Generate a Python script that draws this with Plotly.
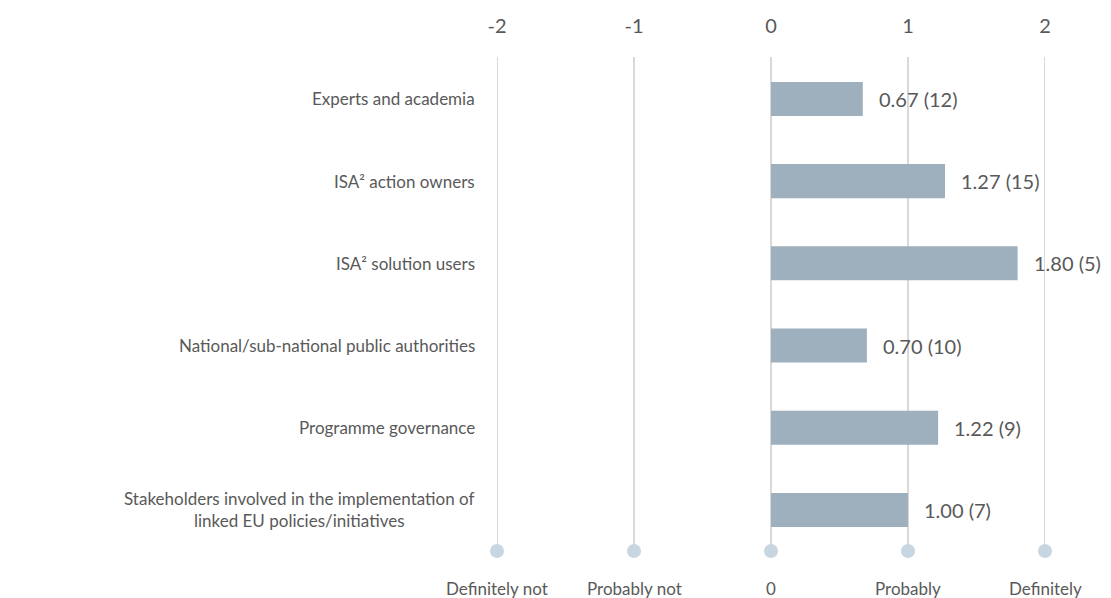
import plotly.graph_objects as go

categories = [
    "Experts and academia",
    "ISA² action owners",
    "ISA² solution users",
    "National/sub-national public authorities",
    "Programme governance",
    "Stakeholders involved in the implementation of<br>linked EU policies/initiatives",
]
scores = [0.67, 1.27, 1.80, 0.70, 1.22, 1.00]
counts = [12, 15, 5, 10, 9, 7]
scale_values = [-2, -1, 0, 1, 2]
scale_ticks = ["-2", "-1", "0", "1", "2"]
scale_labels = ["Definitely not", "Probably not", "0", "Probably", "Definitely"]

FONT = "Lato, 'Open Sans', sans-serif"
TXT = "#595959"
FS = 17
FS_NUM = 20
ypos = list(range(len(categories)))
dot_y = len(categories) - 0.5

fig = go.Figure()
fig.add_trace(go.Bar(
    x=scores, y=ypos, orientation="h", width=0.414,
    marker=dict(color="#9eafbe", line=dict(width=0)),
    hoverinfo="skip",
))
fig.add_trace(go.Scatter(
    x=scale_values, y=[dot_y] * len(scale_values), mode="markers",
    marker=dict(size=14, color="#c8d6e2"), cliponaxis=False, hoverinfo="skip",
))

shapes = [
    dict(type="line", xref="x", yref="paper", x0=v, x1=v, y0=0, y1=1,
         line=dict(color="#d9d9d9", width=2), layer="below")
    for v in scale_values
]

annotations = []
for i, c in enumerate(categories):
    annotations.append(dict(
        x=0, xref="paper", y=i, yref="y", xanchor="right", xshift=-20,
        text=c, showarrow=False, align="center",
        font=dict(family=FONT, size=FS, color=TXT),
    ))
for i, (s, n) in enumerate(zip(scores, counts)):
    annotations.append(dict(
        x=s, xref="x", y=i, yref="y", xanchor="left", xshift=14,
        text=f"{s:.2f} ({n})", showarrow=False,
        font=dict(family=FONT, size=FS_NUM, color=TXT),
    ))
for v, lab in zip(scale_values, scale_labels):
    annotations.append(dict(
        x=v, xref="x", y=0, yref="paper", yanchor="top", yshift=-25,
        text=lab, showarrow=False,
        font=dict(family=FONT, size=FS, color=TXT),
    ))

fig.update_layout(
    width=1111, height=598,
    margin=dict(l=489, r=74, t=49, b=55, autoexpand=False),
    plot_bgcolor="white", paper_bgcolor="white",
    showlegend=False,
    annotations=annotations,
    shapes=shapes,
    xaxis=dict(
        range=[-2, 2], side="top", tickvals=scale_values, ticktext=scale_ticks,
        showgrid=False, zeroline=False, automargin=False,
        ticks="outside", ticklen=15, tickcolor="rgba(0,0,0,0)",
        tickfont=dict(family=FONT, size=FS_NUM, color=TXT),
        showline=False, fixedrange=True,
    ),
    yaxis=dict(
        range=[dot_y, -0.51], showticklabels=False, showgrid=False,
        zeroline=False, showline=False, fixedrange=True, automargin=False,
    ),
)

fig.write_html("out.html")
